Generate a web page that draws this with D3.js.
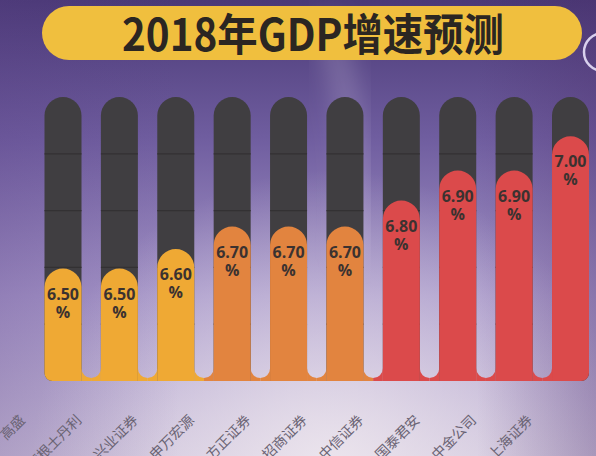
<!DOCTYPE html>
<html><head><meta charset="utf-8">
<script src="https://cdn.jsdelivr.net/npm/d3@7"></script>
<style>html,body{margin:0;padding:0;background:#8a78b0;}svg{display:block;}</style>
</head><body>
<script>
const title = "2018年GDP增速预测";
const categories = ["高盛","摩根士丹利","兴业证券","申万宏源","方正证券","招商证券","中信证券","国泰君安","中金公司","上海证券"];
const values = [6.5, 6.5, 6.6, 6.7, 6.7, 6.7, 6.8, 6.9, 6.9, 7.0];
const trackMax = 7.1;
const colorBreaks = [6.65, 6.75];
const colorList = ["#efa934", "#e2843f", "#db4a4b"];

const W = 596, H = 456;
const svg = d3.select("body").append("svg").attr("width", W).attr("height", H);
const defs = svg.append("defs");

// background
const bg = defs.append("linearGradient").attr("id","bg").attr("x1",0).attr("y1",0).attr("x2",0).attr("y2",1);
[[0,"#4a3976"],[0.3,"#6f5d9f"],[0.65,"#a595c8"],[1,"#cbc0da"]].forEach(s=>bg.append("stop").attr("offset",s[0]).attr("stop-color",s[1]));
const glow = defs.append("radialGradient").attr("id","glow").attr("gradientUnits","userSpaceOnUse")
  .attr("cx",330).attr("cy",470).attr("r",300);
glow.append("stop").attr("offset",0).attr("stop-color","#f4eef2").attr("stop-opacity",0.8);
glow.append("stop").attr("offset",1).attr("stop-color","#f4eef2").attr("stop-opacity",0);
const side = defs.append("linearGradient").attr("id","side").attr("x1",0).attr("y1",0).attr("x2",1).attr("y2",0);
side.append("stop").attr("offset",0).attr("stop-color","#5a3f86").attr("stop-opacity",0.25);
side.append("stop").attr("offset",0.3).attr("stop-color","#5a3f86").attr("stop-opacity",0);
side.append("stop").attr("offset",0.8).attr("stop-color","#4d2f6c").attr("stop-opacity",0);
side.append("stop").attr("offset",1).attr("stop-color","#4d2f6c").attr("stop-opacity",0.3);
defs.append("filter").attr("id","blur").attr("x","-50%").attr("y","-50%").attr("width","200%").attr("height","200%")
  .append("feGaussianBlur").attr("stdDeviation",12);

svg.append("rect").attr("width",W).attr("height",H).attr("fill","url(#bg)");
svg.append("rect").attr("width",W).attr("height",H).attr("fill","url(#glow)");
svg.append("rect").attr("width",W).attr("height",H).attr("fill","url(#side)");
svg.append("path").attr("d","M325,20 C350,90 362,170 352,260").attr("fill","none")
  .attr("stroke","#eadff0").attr("stroke-opacity",0.22).attr("stroke-width",26).attr("filter","url(#blur)");

// title
svg.append("rect").attr("x",42).attr("y",6).attr("width",540).attr("height",54).attr("rx",27)
  .attr("fill","#f0bf3e");
svg.append("text").attr("x",313).attr("y",51).attr("text-anchor","middle")
  .attr("font-family","'Noto Sans CJK SC', sans-serif").attr("font-weight","bold")
  .attr("font-size",44).attr("fill","#2b2622")
  .attr("textLength",382).attr("lengthAdjust","spacingAndGlyphs").text(title);
svg.append("circle").attr("cx",603).attr("cy",52).attr("r",19).attr("fill","none")
  .attr("stroke","#d9d1ee").attr("stroke-width",2.5);

// scales
const baseY = 381;
const x = d3.scaleBand().domain(categories).range([44.5, 589]).paddingInner(0.344).paddingOuter(0);
const h = d3.scalePow().exponent(10.5).domain([0, trackMax]).range([0, 284]);
const color = d3.scaleThreshold().domain(colorBreaks).range(colorList);
const bw = x.bandwidth(), r = bw/2, cr = 8;
const n = categories.length;

function pill(x0, top, i){
  const bl = i===0 ? cr : 0, br = i===n-1 ? cr : 0;
  const p = d3.path();
  p.moveTo(x0, baseY - bl);
  p.lineTo(x0, top + r);
  p.arc(x0 + r, top + r, r, Math.PI, 0);
  p.lineTo(x0 + bw, baseY - br);
  if (br) p.arcTo(x0 + bw, baseY, x0 + bw - br, baseY, br); else p.lineTo(x0+bw, baseY);
  p.lineTo(x0 + bl, baseY);
  if (bl) p.arcTo(x0, baseY, x0, baseY - bl, bl);
  p.closePath();
  return p.toString();
}

const g = svg.append("g");
// tracks
g.selectAll("path.track").data(categories).join("path").attr("class","track")
  .attr("d",(d,i)=>pill(x(d), baseY - h(trackMax), i)).attr("fill","#403e41");
// track dividers
const divs = d3.range(1,5).map(k => baseY - h(trackMax) + k*h(trackMax)/5);
categories.forEach(c=>{
  g.selectAll(null).data(divs).join("line")
    .attr("x1",x(c)).attr("x2",x(c)+bw).attr("y1",d=>d).attr("y2",d=>d)
    .attr("stroke","#333133").attr("stroke-width",1.2);
});
// fills
g.selectAll("path.fill").data(values).join("path").attr("class","fill")
  .attr("d",(v,i)=>pill(x(categories[i]), baseY - h(v), i)).attr("fill",v=>color(v));
// bottom fillets joining bars
for (let i=0;i<n-1;i++){
  const x1 = x(categories[i]) + bw, x2 = x(categories[i+1]);
  const xm = (x1+x2)/2, gr = (x2-x1)/2, cy = 378 - gr;
  g.append("path").attr("d",`M${x1},${cy} L${x1},${baseY} L${xm},${baseY} L${xm},378 A${gr},${gr} 0 0 1 ${x1},${cy} Z`)
    .attr("fill",color(values[i]));
  g.append("path").attr("d",`M${x2},${cy} L${x2},${baseY} L${xm},${baseY} L${xm},378 A${gr},${gr} 0 0 0 ${x2},${cy} Z`)
    .attr("fill",color(values[i+1]));
}
// value labels
const lab = g.selectAll("text.val").data(values).join("text").attr("class","val")
  .attr("text-anchor","middle").attr("font-family","'Open Sans', sans-serif")
  .attr("font-weight","bold").attr("font-size",16).attr("fill","#3b3230");
lab.append("tspan").attr("x",(v,i)=>x(categories[i])+r).attr("y",v=>baseY - h(v) + 31).text(v=>v.toFixed(2));
lab.append("tspan").attr("x",(v,i)=>x(categories[i])+r).attr("y",v=>baseY - h(v) + 49).text("%");

// category labels
g.selectAll("text.cat").data(categories).join("text").attr("class","cat")
  .attr("transform",d=>`translate(${x(d)+r-37},421) rotate(-45)`)
  .attr("text-anchor","end").attr("font-family","'Noto Sans CJK SC', sans-serif")
  .attr("font-size",14).attr("fill","#6a6373").text(d=>d);
</script>
</body></html>
